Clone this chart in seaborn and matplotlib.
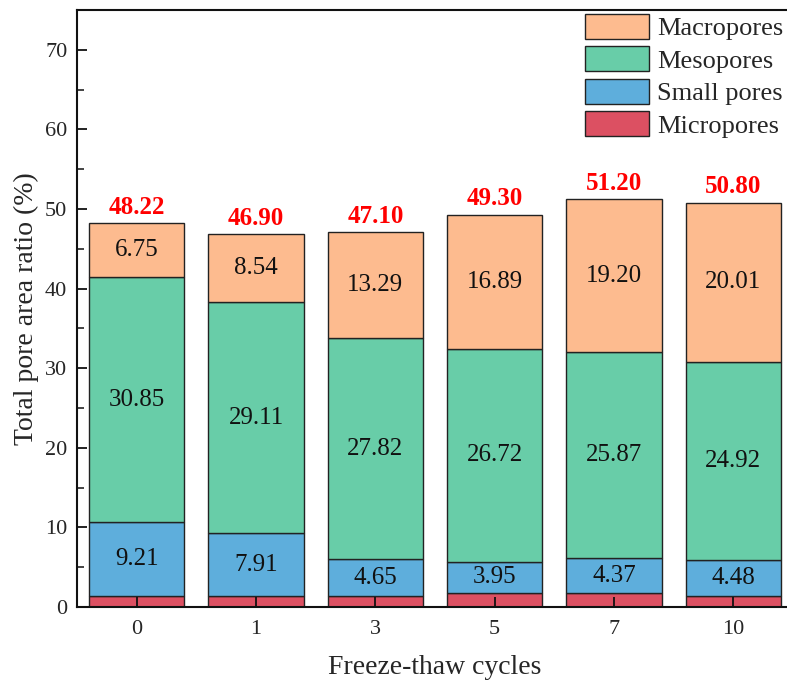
import matplotlib
matplotlib.use("Agg")
import matplotlib.pyplot as plt
import numpy as np
import pandas as pd
import seaborn as sns

# Pore area ratios (%) by freeze-thaw cycle count
cycles = ["0", "1", "3", "5", "7", "10"]
micropores = [1.41, 1.34, 1.34, 1.74, 1.76, 1.39]
small_pores = [9.21, 7.91, 4.65, 3.95, 4.37, 4.48]
mesopores = [30.85, 29.11, 27.82, 26.72, 25.87, 24.92]
macropores = [6.75, 8.54, 13.29, 16.89, 19.20, 20.01]
totals = [48.22, 46.90, 47.10, 49.30, 51.20, 50.80]

series_names = ["Micropores", "Small pores", "Mesopores", "Macropores"]
series_values = [micropores, small_pores, mesopores, macropores]
series_colors = ["#DC5062", "#5EAEDC", "#68CDA8", "#FDBB8F"]
show_values = [False, True, True, True]

sns.set_style("ticks")
plt.rcParams["font.family"] = ["Liberation Serif", "DejaVu Serif"]
plt.rcParams["mathtext.fontset"] = "stix"

fig = plt.figure(figsize=(7.87, 6.86), dpi=100)
fig.patch.set_facecolor("white")
W, H = 787, 686
ax = fig.add_axes([77 / W, 1 - 607 / H, (793 - 77) / W, (607 - 10) / H])

df = pd.DataFrame({"cycles": cycles})
bottom = np.zeros(len(cycles))
for name, vals, color, show in zip(series_names, series_values,
                                    series_colors, show_values):
    df[name] = vals
    sns.barplot(data=df, x="cycles", y=name, order=cycles, bottom=bottom,
                color=color, saturation=1, width=0.8, errorbar=None,
                edgecolor="#222222", linewidth=1.0, ax=ax, label=name,
                zorder=1)
    if show:
        for i, v in enumerate(vals):
            ax.text(i, bottom[i] + v / 2, f"{v:.2f}", ha="center",
                    va="center", fontsize=18, color="#111111")
    bottom = bottom + np.asarray(vals)

for i, t in enumerate(totals):
    ax.annotate(f"{t:.2f}", xy=(i, t), xytext=(0, 3),
                textcoords="offset points", ha="center", va="bottom",
                fontsize=18, fontweight="bold", color="#FF0000")

ax.set_axisbelow(False)
ax.set_xlim(-0.5, 5.5)
ax.set_ylim(0, 75)
ax.set_yticks(np.arange(0, 71, 10))
ax.set_yticks(np.arange(5, 75, 10), minor=True)
ax.tick_params(axis="both", which="major", direction="in", length=7,
               width=1.3, labelsize=16, color="#111111",
               bottom=True, left=True, top=False, right=False)
ax.tick_params(axis="y", which="minor", direction="in", length=5,
               width=1.1, color="#111111")
ax.tick_params(axis="x", which="minor", bottom=False)
ax.tick_params(axis="x", pad=9)
ax.tick_params(axis="y", pad=7)
ax.xaxis.set_zorder(5)
ax.yaxis.set_zorder(5)

ax.set_xlabel("Freeze-thaw cycles", fontsize=20, labelpad=12)
ax.set_ylabel("Total pore area ratio (%)", fontsize=20, labelpad=4)

for side in ["left", "bottom", "top", "right"]:
    ax.spines[side].set_visible(True)
    ax.spines[side].set_linewidth(1.5)
    ax.spines[side].set_color("#111111")
    ax.spines[side].set_zorder(6)

# Legend lists layers from top of the stack down
h, l = ax.get_legend_handles_labels()
order = [l.index(n) for n in series_names[::-1]]
ax.legend([h[k] for k in order], [l[k] for k in order],
          loc="upper left", bbox_to_anchor=(582 / W, 1 - 11 / H),
          bbox_transform=fig.transFigure, frameon=False, fontsize=19,
          handlelength=2.45, handleheight=1.1, labelspacing=0.22,
          handletextpad=0.3, borderpad=0.1, borderaxespad=0)

fig.savefig("out.png", dpi=100, facecolor="white")
